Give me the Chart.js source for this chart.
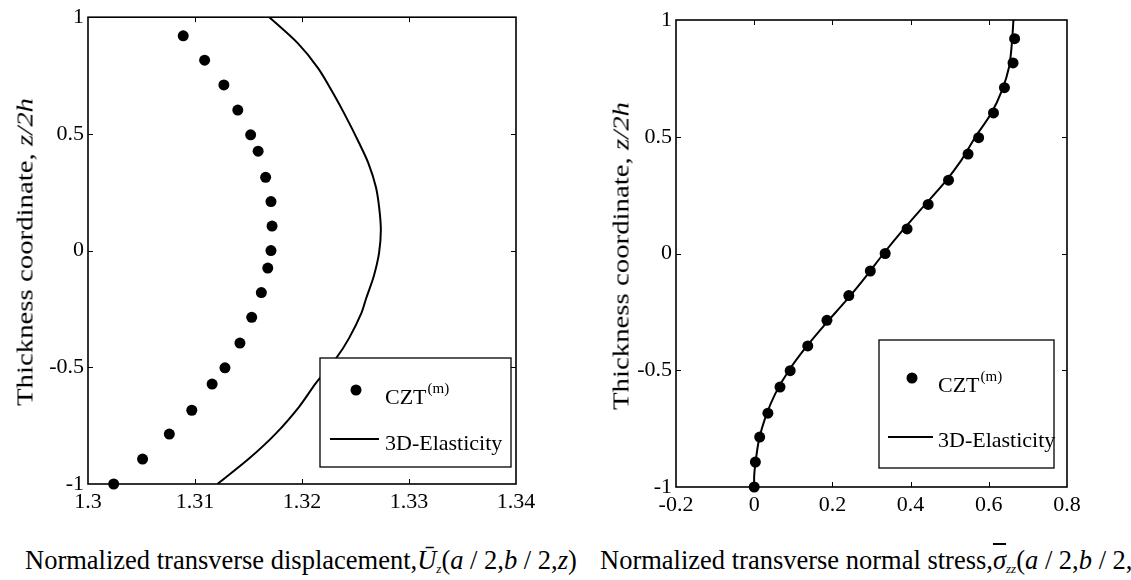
<!DOCTYPE html>
<html lang="en">
<head>
<meta charset="UTF-8">
<title>Thickness profiles</title>
<script src="https://cdn.jsdelivr.net/npm/chart.js"></script>
<style>
  body { margin: 0; background: #fff; }
  #wrap { position: relative; width: 1131px; height: 580px; overflow: hidden; background: #fff;
          font-family: 'Liberation Serif', 'Times New Roman', serif; color: #000; }
  .panel { position: absolute; top: 0; height: 520px; }
  .ytitle { position: absolute; white-space: nowrap; font-size: 24px;
            transform: translate(-50%, -50%) rotate(-90deg) scaleX(1.2); }
  .xtitle { position: absolute; white-space: nowrap; font-size: 26.5px; top: 545px; }
  .xtitle sub { font-size: 13px; vertical-align: -4px; }
  .bar { text-decoration: overline; }
</style>
</head>
<body>
<div id="wrap">
  <div class="panel" style="left:0; width:560px;"><canvas id="dispChart"></canvas></div>
  <div class="panel" style="left:560px; width:571px;"><canvas id="stressChart"></canvas></div>
  <div class="ytitle" style="left:25px; top:252px;">Thickness coordinate, <i>z/2h</i></div>
  <div class="ytitle" style="left:621px; top:256px;">Thickness coordinate, <i>z/2h</i></div>
  <div class="xtitle" style="left:25px;">Normalized transverse displacement,<i>&#362;</i><sub><i>z</i></sub>(<i>a</i> / 2,<i>b</i> / 2,<i>z</i>)</div>
  <div class="xtitle" style="left:600px;">Normalized transverse normal stress,<i class="bar">&sigma;</i><sub><i>zz</i></sub>(<i>a</i> / 2,<i>b</i> / 2,<i>z</i>)</div>
</div>

<script>
// CZT(m) points (same thickness stations in both panels)
const zCzt = [0.92, 0.816, 0.71, 0.602, 0.496, 0.426, 0.314, 0.21, 0.105, 0, -0.075, -0.18, -0.286, -0.396, -0.502, -0.572, -0.684, -0.786, -0.893, -1];
const dispCzt = [1.3089, 1.3109, 1.3127, 1.3140, 1.3152, 1.3159, 1.3166, 1.3171, 1.3172, 1.3171, 1.3168, 1.3162, 1.3153, 1.3142, 1.3128, 1.3116, 1.3097, 1.3076, 1.3051, 1.3024];
const stressCzt = [0.666, 0.662, 0.640, 0.612, 0.574, 0.547, 0.497, 0.445, 0.391, 0.335, 0.297, 0.242, 0.186, 0.137, 0.092, 0.066, 0.035, 0.014, 0.003, 0.0];

// 3D-Elasticity curves
const zElasDisp = [1.0, 0.889, 0.782, 0.675, 0.574, 0.46, 0.375, 0.274, 0.189, 0.089, -0.011, -0.111, -0.204, -0.268, -0.375, -0.461, -0.568, -0.668, -0.783, -0.89, -1.0];
const dispElas = [1.31695, 1.3196, 1.3215, 1.3229, 1.3241, 1.32535, 1.3262, 1.3269, 1.3272, 1.32737, 1.3272, 1.3267, 1.3260, 1.32555, 1.3244, 1.3232, 1.3213, 1.31975, 1.31757, 1.31508, 1.3121];
const zElasStress = [-1, -0.95, -0.9, -0.8, -0.7, -0.6, -0.5, -0.4, -0.3, -0.2, -0.1, 0, 0.1, 0.2, 0.3, 0.4, 0.5, 0.6, 0.7, 0.8, 0.9, 1.0];
const stressElas = [0.0, 0.0, 0.003, 0.012, 0.029, 0.054, 0.089, 0.133, 0.183, 0.236, 0.285, 0.331, 0.38, 0.432, 0.485, 0.53, 0.566, 0.606, 0.634, 0.652, 0.659, 0.663];

// tick labels
const zTicks = [-1, -0.5, 0, 0.5, 1];
const dispTicks = [1.3, 1.31, 1.32, 1.33, 1.34];
const stressTicks = [-0.2, 0, 0.2, 0.4, 0.6, 0.8];

const SERIF = "'Liberation Serif', 'Times New Roman', serif";
Chart.defaults.font.family = SERIF;
Chart.defaults.color = '#000';

function pts(xs, ys) {
  return xs.map((v, i) => ({x: v, y: ys[i]}));
}

// box + inward tick marks on all four sides
const framePlugin = {
  id: 'frame',
  beforeDatasetsDraw(chart) {
    const ctx = chart.ctx, a = chart.chartArea;
    const sx = chart.scales.x, sy = chart.scales.y;
    ctx.save();
    ctx.strokeStyle = '#000';
    ctx.lineWidth = 1;
    const len = 5;
    ctx.beginPath();
    sx.ticks.forEach(t => {
      const px = Math.round(sx.getPixelForValue(t.value)) + 0.5;
      if (px < a.left + 2 || px > a.right - 2) return;
      ctx.moveTo(px, a.bottom); ctx.lineTo(px, a.bottom - len);
      ctx.moveTo(px, a.top); ctx.lineTo(px, a.top + len);
    });
    sy.ticks.forEach(t => {
      const py = Math.round(sy.getPixelForValue(t.value)) + 0.5;
      if (py < a.top + 2 || py > a.bottom - 2) return;
      ctx.moveTo(a.left, py); ctx.lineTo(a.left + len, py);
      ctx.moveTo(a.right, py); ctx.lineTo(a.right - len, py);
    });
    ctx.stroke();
    ctx.lineWidth = 1.6;
    ctx.strokeRect(a.left, a.top, a.right - a.left, a.bottom - a.top);
    ctx.restore();
  }
};

// legend box drawn inside the plot area
const boxLegend = {
  id: 'boxLegend',
  afterDraw(chart, args, o) {
    const ctx = chart.ctx, a = chart.chartArea;
    const bx = a.right - o.right - o.w, by = a.bottom - o.bottom - o.h;
    const ds = chart.data.datasets;
    ctx.save();
    ctx.fillStyle = '#fff';
    ctx.fillRect(bx, by, o.w, o.h);
    ctx.strokeStyle = '#000';
    ctx.lineWidth = 1.3;
    ctx.strokeRect(bx, by, o.w, o.h);
    // marker entry
    ctx.fillStyle = '#000';
    ctx.beginPath();
    ctx.arc(bx + o.mark[0], by + o.mark[1], ds[0].pointRadius, 0, Math.PI * 2);
    ctx.fill();
    ctx.font = '22px ' + SERIF;
    ctx.textBaseline = 'alphabetic';
    ctx.fillText(ds[0].label, bx + o.text1[0], by + o.text1[1]);
    const w = ctx.measureText(ds[0].label).width;
    ctx.font = '15px ' + SERIF;
    ctx.fillText(ds[0].sup, bx + o.text1[0] + w + 1, by + o.text1[1] - 11);
    // line entry
    ctx.lineWidth = ds[1].borderWidth;
    ctx.beginPath();
    ctx.moveTo(bx + o.line[0], by + o.line[2]);
    ctx.lineTo(bx + o.line[1], by + o.line[2]);
    ctx.stroke();
    ctx.font = '22px ' + SERIF;
    ctx.fillText(ds[1].label, bx + o.text2[0], by + o.text2[1]);
    ctx.restore();
  }
};

function fmt(v) { return String(+(+v).toFixed(4)); }

function makeChart(id, xVals, xLine, zLine, xTicks, box, pad, yWidth, xHeight) {
  return new Chart(document.getElementById(id), {
    type: 'scatter',
    data: {
      datasets: [
        {
          label: 'CZT', sup: '(m)',
          data: pts(xVals, zCzt),
          pointRadius: 5.5, pointHoverRadius: 5.5,
          backgroundColor: '#000', borderColor: '#000', borderWidth: 0,
          showLine: false, clip: false
        },
        {
          label: '3D-Elasticity',
          data: pts(xLine, zLine),
          showLine: true, pointRadius: 0, borderColor: '#000', borderWidth: 2,
          tension: 0.3, fill: false
        }
      ]
    },
    options: {
      responsive: true, maintainAspectRatio: false, animation: false,
      layout: { padding: pad },
      plugins: { legend: { display: false }, tooltip: { enabled: false }, boxLegend: box },
      scales: {
        x: {
          type: 'linear', min: xTicks[0], max: xTicks[xTicks.length - 1],
          afterBuildTicks: s => { s.ticks = xTicks.map(v => ({value: v})); },
          afterFit: s => { s.height = xHeight; },
          grid: { display: false, drawTicks: false },
          border: { display: false },
          ticks: { font: { family: SERIF, size: 22 }, padding: 5, maxRotation: 0, autoSkip: false, callback: fmt }
        },
        y: {
          type: 'linear', min: -1, max: 1,
          afterBuildTicks: s => { s.ticks = zTicks.map(v => ({value: v})); },
          afterFit: s => { s.width = yWidth; },
          grid: { display: false, drawTicks: false },
          border: { display: false },
          ticks: { font: { family: SERIF, size: 22 }, padding: 4, autoSkip: false, callback: fmt }
        }
      }
    },
    plugins: [framePlugin, boxLegend]
  });
}

makeChart('dispChart', dispCzt, dispElas, zElasDisp, dispTicks,
  { right: 5, bottom: 17, w: 191, h: 109, mark: [36, 32], text1: [65, 46], line: [10, 59, 81], text2: [65, 92] },
  { top: 17, right: 44, left: 0, bottom: 0 }, 88, 36);

makeChart('stressChart', stressCzt, stressElas, zElasStress, stressTicks,
  { right: 13, bottom: 19, w: 175, h: 128, mark: [33, 38], text1: [59, 52], line: [9, 54, 97], text2: [59, 107] },
  { top: 20, right: 64, left: 0, bottom: 0 }, 116, 33);
</script>
</body>
</html>
